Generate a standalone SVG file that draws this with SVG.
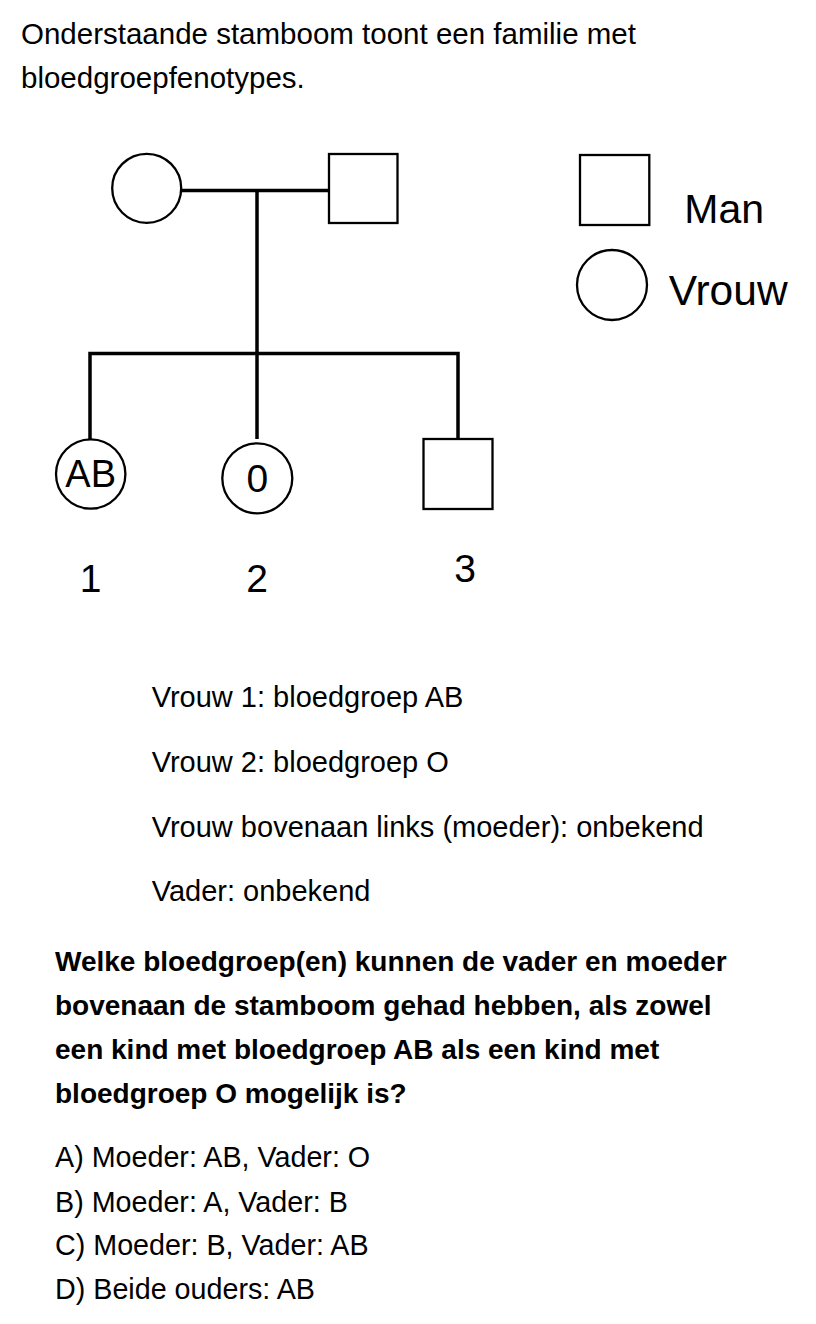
<svg xmlns="http://www.w3.org/2000/svg" width="816" height="1324" viewBox="0 0 816 1324">
<style>
.t{font-family:"Liberation Sans",Arial,sans-serif;fill:#000;}
.r{font-size:28.7px;}
.top{font-size:29.5px;}
.f{font-size:29px;}
.b{font-size:28px;font-weight:bold;}
.sym{fill:#fff;stroke:#000;stroke-width:2.3;}
.con{stroke:#000;stroke-width:3.5;fill:none;stroke-linecap:butt;}
</style>
<rect width="816" height="1324" fill="#fff"/>
<g id="intro">
<text class="t top" x="21" y="44">Onderstaande stamboom toont een familie met</text>
<text class="t top" x="21" y="88">bloedgroepfenotypes.</text>
</g>
<g id="connectors">
<line class="con" x1="181" y1="190.5" x2="329" y2="190.5"/>
<line class="con" x1="257" y1="190.5" x2="257" y2="355"/>
<polyline class="con" points="90,439 90,353.5 458,353.5 458,439"/>
<line class="con" x1="257" y1="353.5" x2="257" y2="439"/>
</g>
<g id="mother"><circle class="sym" cx="146.7" cy="188.3" r="34.5"/></g>
<g id="father"><rect class="sym" x="329" y="154" width="68.5" height="69"/></g>
<g id="child1">
<circle class="sym" cx="90.7" cy="474" r="34.7"/>
<text class="t" x="90.7" y="487.3" font-size="38" text-anchor="middle">AB</text>
<text class="t" x="90.5" y="591.7" font-size="39" text-anchor="middle">1</text>
</g>
<g id="child2">
<circle class="sym" cx="257.3" cy="478.3" r="35"/>
<text class="t" x="257.3" y="491.7" font-size="39" text-anchor="middle">0</text>
<text class="t" x="257" y="591.7" font-size="39" text-anchor="middle">2</text>
</g>
<g id="child3">
<rect class="sym" x="423.5" y="439" width="69" height="70"/>
<text class="t" x="465" y="581.7" font-size="39" text-anchor="middle">3</text>
</g>
<g id="legend">
<rect class="sym" x="580" y="155" width="69.3" height="70"/>
<text class="t" x="684.3" y="222.7" font-size="41">Man</text>
<circle class="sym" cx="612" cy="285" r="35"/>
<text class="t" x="668.7" y="305" font-size="42.5">Vrouw</text>
</g>
<g id="facts">
<text class="t f" x="151.7" y="707.3">Vrouw 1: bloedgroep AB</text>
<text class="t f" x="151.7" y="771.7">Vrouw 2: bloedgroep O</text>
<text class="t f" x="151.7" y="836.5">Vrouw bovenaan links (moeder): onbekend</text>
<text class="t f" x="151.7" y="901.3">Vader: onbekend</text>
</g>
<g id="question">
<text class="t b" x="55" y="971">Welke bloedgroep(en) kunnen de vader en moeder</text>
<text class="t b" x="55" y="1015">bovenaan de stamboom gehad hebben, als zowel</text>
<text class="t b" x="55" y="1059">een kind met bloedgroep AB als een kind met</text>
<text class="t b" x="55" y="1103">bloedgroep O mogelijk is?</text>
</g>
<g id="answers">
<text class="t r" x="55" y="1167">A) Moeder: AB, Vader: O</text>
<text class="t r" x="55" y="1211.5">B) Moeder: A, Vader: B</text>
<text class="t r" x="55" y="1255">C) Moeder: B, Vader: AB</text>
<text class="t r" x="55" y="1298.5">D) Beide ouders: AB</text>
</g>
</svg>
